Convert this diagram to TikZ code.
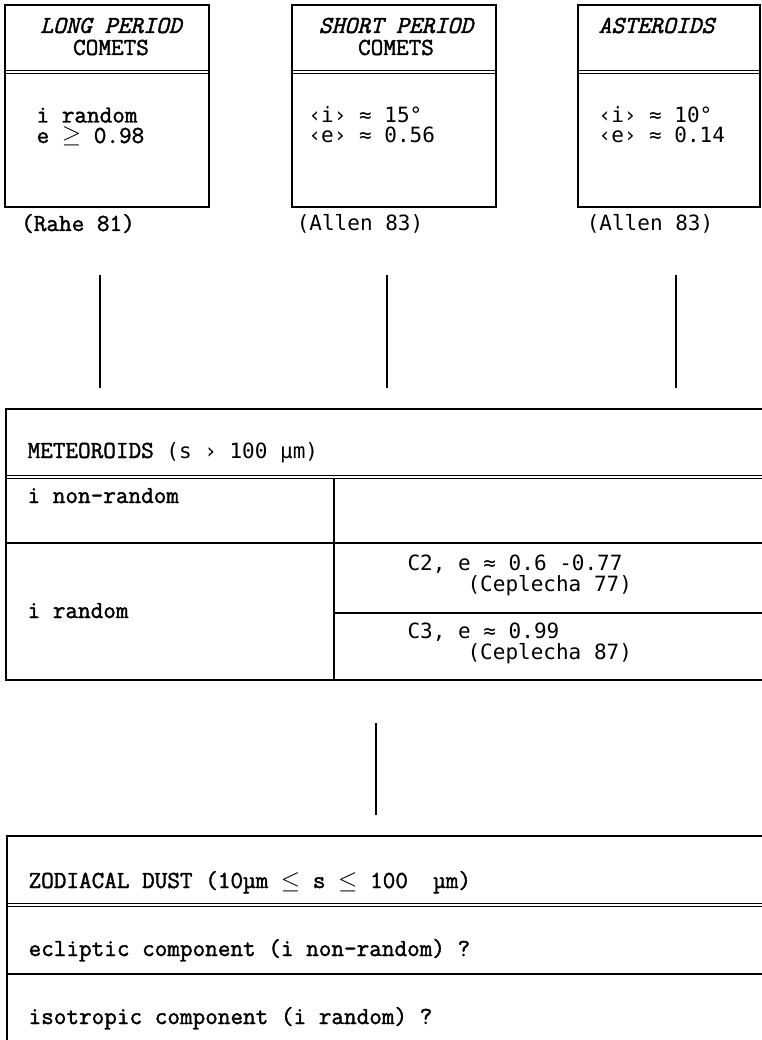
\documentclass[tikz,border=0pt]{standalone}
\usepackage{fontspec}
\newfontfamily\cour{Latin Modern Mono}[RawFeature={embolden=1.6}]
\newfontfamily\lgot{DejaVu Sans Mono}
\begin{document}
\begin{tikzpicture}[x=1pt,y=-1pt,line width=1.2pt,
  frame/.style={inner sep=0pt,outer sep=0pt,anchor=north west},
  ctext/.style={inner sep=0pt,anchor=base west,align=left,font=\cour\fontsize{24.5}{20.5}\selectfont},
  ctextc/.style={inner sep=0pt,anchor=base,align=center,font=\cour\fontsize{24.5}{22}\selectfont},
  stext/.style={inner sep=0pt,anchor=base west,align=left,font=\lgot\fontsize{21}{20.5}\selectfont},
  stextc/.style={inner sep=0pt,anchor=base,font=\lgot\fontsize{21}{20}\selectfont},
  ceptext/.style={stext,font=\lgot\fontsize{21}{18}\selectfont},
  dbl/.style={line width=1pt},
  link/.style={line width=1.2pt}]
\useasboundingbox (0,0) rectangle (761,1040);
% ---------- top boxes ----------
\node[frame,draw,minimum width=204pt,minimum height=202pt] (lp) at (5,5) {};
\node[frame,draw,minimum width=204pt,minimum height=202pt] (sp) at (292,5) {};
\node[frame,draw,minimum width=182pt,minimum height=202pt] (as) at (578,5) {};
\foreach \b in {lp,sp,as}{
  \draw[dbl] ([yshift=-65.2pt]\b.north west) -- ([yshift=-65.2pt]\b.north east);
  \draw[dbl] ([yshift=-68.8pt]\b.north west) -- ([yshift=-68.8pt]\b.north east);
}
% headers (anchor = baseline of the last line)
\node[ctextc] (lph) at (111,55) {{\itshape LONG PERIOD}\\COMETS};
\node[ctextc] (sph) at (396,55) {{\itshape SHORT PERIOD}\\COMETS};
\node[ctext]  (ash) at (598,33) {\itshape ASTEROIDS};
% bodies
\node[ctext] (lpb) at (36,143) {i random\\e $\geq$ 0.98};
\node[stext] (spb) at (308,143) {‹i› ≈ 15°\\‹e› ≈ 0.56};
\node[stext] (asb) at (598,143) {‹i› ≈ 10°\\‹e› ≈ 0.14};
% references
\node[ctextc] (ref1) at (78,231) {(Rahe 81)};
\node[stextc] (ref2) at (360,231) {(Allen 83)};
\node[stextc] (ref3) at (650,231) {(Allen 83)};
% ---------- connectors ----------
\coordinate (c1a) at (100,275); \coordinate (c1b) at (100,388);
\coordinate (c2a) at (387,275); \coordinate (c2b) at (387,388);
\coordinate (c3a) at (676,275); \coordinate (c3b) at (676,388);
\draw[link] (c1a) -- (c1b);
\draw[link] (c2a) -- (c2b);
\draw[link] (c3a) -- (c3b);
% ---------- meteoroids ----------
\node[frame,minimum width=770pt,minimum height=271pt] (met) at (6,409) {};
\draw (met.north east) -- (met.north west) -- (met.south west) -- (met.south east);
\coordinate (mh) at (6,477);
\draw[dbl] ([yshift=1.8pt]mh) -- ([yshift=1.8pt]mh -| met.east);
\draw[dbl] ([yshift=-1.8pt]mh) -- ([yshift=-1.8pt]mh -| met.east);
\coordinate (mr) at (6,543);
\draw (mr) -- (mr -| met.east);
\coordinate (mv) at (334,479);
\draw (mv) -- (mv |- met.south);
\coordinate (mc) at (334,613);
\draw (mc) -- (mc -| met.east);
\node[ctext] (mt) at (27,458) {METEOROIDS \lgot\fontsize{21}{20}\selectfont(s › 100 µm)};
\node[ctext] (mnr) at (27,503) {i non-random};
\node[ctext] (mra) at (27,618) {i random};
\node[ceptext] (c2) at (407,591) {C2, e ≈ 0.6 -0.77\\\hspace*{60pt}(Ceplecha 77)};
\node[ceptext] (c3) at (407,659) {C3, e ≈ 0.99\\\hspace*{60pt}(Ceplecha 87)};
% ---------- connector to zodiacal dust ----------
\coordinate (c4a) at (376,723); \coordinate (c4b) at (376,815);
\draw[link] (c4a) -- (c4b);
% ---------- zodiacal dust ----------
\node[frame,minimum width=770pt,minimum height=220pt] (zd) at (7,836) {};
\draw (zd.north east) -- (zd.north west) -- (zd.south west);
\coordinate (zh) at (7,905);
\draw[dbl] ([yshift=1.8pt]zh) -- ([yshift=1.8pt]zh -| zd.east);
\draw[dbl] ([yshift=-1.8pt]zh) -- ([yshift=-1.8pt]zh -| zd.east);
\coordinate (zr) at (7,974);
\draw (zr) -- (zr -| zd.east);
\node[ctext] (zt) at (28,888) {ZODIACAL DUST (10µm $\leq$ s $\leq$ 100 \ µm)};
\node[ctext] (ze) at (28,956) {ecliptic component (i non-random) ?};
\node[ctext] (zi) at (28,1024) {isotropic component (i random) ?};
\end{tikzpicture}
\end{document}
